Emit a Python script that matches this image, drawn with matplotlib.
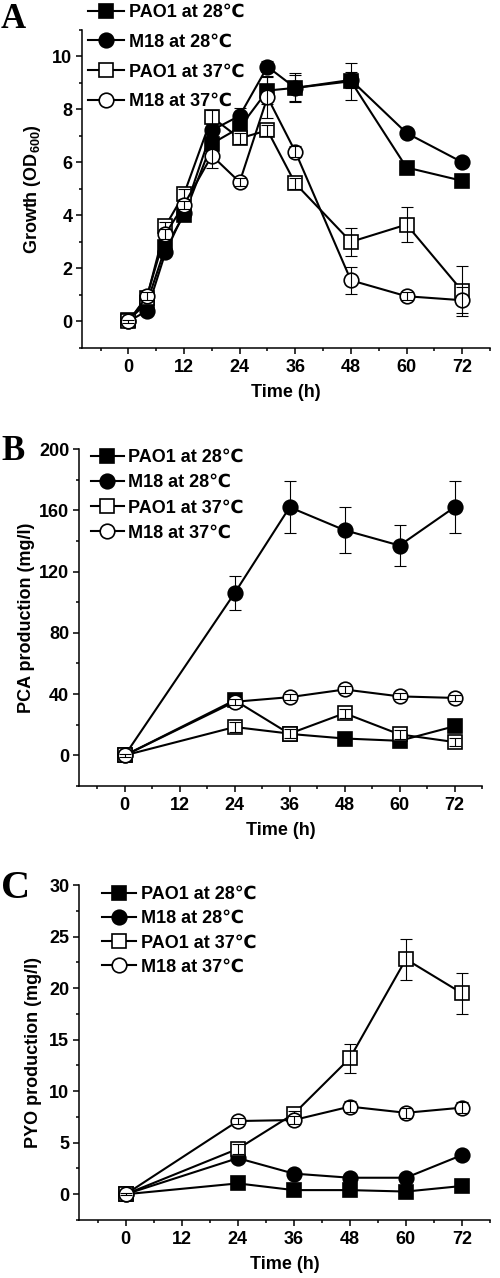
import matplotlib
matplotlib.use("Agg")
import matplotlib.pyplot as plt
from matplotlib.ticker import MultipleLocator

plt.rcParams['font.family'] = ['Liberation Sans', 'DejaVu Sans']
plt.rcParams['font.weight'] = 'bold'
plt.rcParams['axes.labelweight'] = 'bold'
plt.rcParams['mathtext.fontset'] = 'custom'
plt.rcParams['mathtext.rm'] = 'Liberation Sans:bold'
plt.rcParams['mathtext.it'] = 'Liberation Sans:bold'
plt.rcParams['mathtext.bf'] = 'Liberation Sans:bold'

labels = ['PAO1 at 28℃', 'M18 at 28℃', 'PAO1 at 37℃', 'M18 at 37℃']

# Panel A - growth
time_a = [0, 4, 8, 12, 18, 24, 30, 36, 48, 60, 72]
a_pao1_28 = [0.05, 0.7, 2.8, 4.0, 6.7, 7.3, 8.7, 8.8, 9.05, 5.8, 5.3]
a_m18_28 = [0.0, 0.4, 2.6, 4.1, 7.2, 7.75, 9.6, 8.8, 9.1, 7.1, 6.0]
a_pao1_37 = [0.0, 0.9, 3.6, 4.8, 7.7, 6.9, 7.2, 5.2, 3.0, 3.65, 1.15]
a_m18_37 = [0.0, 0.95, 3.3, 4.4, 6.25, 5.25, 8.45, 6.4, 1.55, 0.95, 0.8]
a_pao1_28_err = [0.05, 0.1, 0.2, 0.2, 0.3, 0.35, 0.5, 0.55, 0.7, 0.15, 0.15]
a_m18_28_err = [0.05, 0.1, 0.15, 0.2, 0.3, 0.3, 0.2, 0.5, 0.3, 0.15, 0.15]
a_pao1_37_err = [0.05, 0.1, 0.15, 0.2, 0.25, 0.2, 0.2, 0.2, 0.52, 0.65, 0.95]
a_m18_37_err = [0.05, 0.15, 0.2, 0.15, 0.45, 0.15, 0.8, 0.2, 0.5, 0.15, 0.5]

# Panel B - PCA production
time_bc = [0, 24, 36, 48, 60, 72]
b_pao1_28 = [0, 36, 14, 11, 9.5, 19]
b_m18_28 = [0, 106, 162, 147, 137, 162]
b_pao1_37 = [0, 18.5, 14.2, 27.5, 13.7, 8.7]
b_m18_37 = [0, 35, 38, 43, 38.5, 37.5]
b_pao1_28_err = [1, 3, 2, 1.5, 1.5, 2]
b_m18_28_err = [1, 11, 17, 15, 13.5, 17]
b_pao1_37_err = [1, 3, 3, 3, 3, 2.5]
b_m18_37_err = [1, 2, 2, 2, 2, 2]

# Panel C - PYO production
c_pao1_28 = [0, 1.05, 0.4, 0.4, 0.26, 0.8]
c_m18_28 = [0, 3.5, 2.0, 1.6, 1.6, 3.8]
c_pao1_37 = [0, 4.4, 7.8, 13.2, 22.8, 19.5]
c_m18_37 = [0, 7.1, 7.2, 8.5, 7.9, 8.4]
c_pao1_28_err = [0.05, 0.1, 0.1, 0.1, 0.1, 0.1]
c_m18_28_err = [0.1, 0.3, 0.2, 0.2, 0.2, 0.3]
c_pao1_37_err = [0.1, 0.5, 0.3, 1.4, 2.0, 2.0]
c_m18_37_err = [0.1, 0.3, 0.4, 0.5, 0.5, 0.5]

x_ticks = [0, 12, 24, 36, 48, 60, 72]
styles = [('s', 'black'), ('o', 'black'), ('s', 'white'), ('o', 'white')]

fig = plt.figure(figsize=(5, 12.78), dpi=100)


def draw_panel(rect, t, series, errs, ylim, ymaj, ymin, ylabel, letter, letter_pos,
               letter_size, leg_anchor, leg_spacing, handle_len, ylabel_x):
    ax = fig.add_axes(rect)
    handles = []
    for k, (y, e) in enumerate(zip(series, errs)):
        m, fc = styles[k]
        h, = ax.plot(t, y, color='black', lw=1.5, marker=m, ms=10.5,
                     mfc=fc, mec='black', mew=1.2, zorder=3 + 2 * k, clip_on=False)
        ax.errorbar(t, y, yerr=e, fmt='none', ecolor='black', elinewidth=0.8,
                    capsize=4.5, capthick=0.8, zorder=4 + 2 * k, clip_on=False)
        handles.append(h)
    ax.set_xlim(-10, 78)
    ax.set_ylim(*ylim)
    ax.set_xticks(x_ticks)
    ax.xaxis.set_minor_locator(MultipleLocator(6))
    ax.yaxis.set_major_locator(MultipleLocator(ymaj))
    ax.yaxis.set_minor_locator(MultipleLocator(ymin))
    for s in ['top', 'right']:
        ax.spines[s].set_visible(False)
    for s in ['left', 'bottom']:
        ax.spines[s].set_linewidth(1.1)
    ax.tick_params(which='major', direction='out', length=4.5, width=1.1, labelsize=13)
    ax.tick_params(axis='x', which='major', pad=3.5)
    ax.tick_params(axis='y', which='major', pad=2.5)
    ax.tick_params(which='minor', direction='out', length=2.5, width=1.1)
    for lab in ax.get_xticklabels() + ax.get_yticklabels():
        lab.set_fontweight('bold')
    ax.set_xlabel('Time (h)', fontsize=13, labelpad=6)
    ax.set_ylabel(ylabel, fontsize=13)
    ax.yaxis.set_label_coords(ylabel_x, 0.5)
    ax.legend(handles, labels, loc='upper left', bbox_to_anchor=leg_anchor,
              bbox_transform=fig.transFigure, frameon=False,
              borderpad=0, borderaxespad=0, handlelength=handle_len, handletextpad=0.25,
              labelspacing=leg_spacing, prop={'weight': 'bold', 'size': 13})
    fig.text(letter_pos[0], letter_pos[1], letter, family='Liberation Serif',
             weight='bold', fontsize=letter_size, va='center', ha='left')
    return ax


W, H = 500.0, 1278.0

draw_panel([82 / W, 1 - 348 / H, 408 / W, 318.5 / H], time_a,
           [a_pao1_28, a_m18_28, a_pao1_37, a_m18_37],
           [a_pao1_28_err, a_m18_28_err, a_pao1_37_err, a_m18_37_err],
           (-1, 11), 2, 1, 'Growth (OD$_{600}$)', 'A', (1 / W, 1 - 19 / H), 25,
           (88 / W, 1 - 4 / H), 0.70, 2.0, -0.096)

draw_panel([79 / W, 1 - 786 / H, 403 / W, 337 / H], time_bc,
           [b_pao1_28, b_m18_28, b_pao1_37, b_m18_37],
           [b_pao1_28_err, b_m18_28_err, b_pao1_37_err, b_m18_37_err],
           (-20, 200), 40, 20, 'PCA production (mg/l)', 'B', (1 / W, 1 - 451 / H), 25,
           (91 / W, 1 - 449 / H), 0.45, 1.8, -0.109)

draw_panel([79 / W, 1 - 1220 / H, 411 / W, 335 / H], time_bc,
           [c_pao1_28, c_m18_28, c_pao1_37, c_m18_37],
           [c_pao1_28_err, c_m18_28_err, c_pao1_37_err, c_m18_37_err],
           (-2.5, 30), 5, 2.5, 'PYO production (mg/l)', 'C', (1 / W, 1 - 888 / H), 29,
           (102 / W, 1 - 886 / H), 0.40, 1.9, -0.09)

fig.savefig('out.png', dpi=100)
